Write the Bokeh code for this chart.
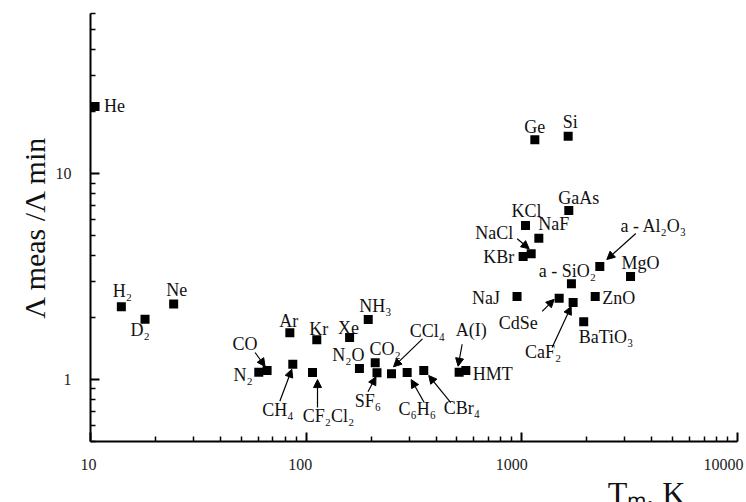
import math
from bokeh.plotting import figure
from bokeh.layouts import column
from bokeh.models import (ColumnDataSource, FixedTicker, CustomJSTickFormatter,
                          Title, Arrow, NormalHead, Range1d)
from bokeh.core.properties import value
from bokeh.embed import file_html
from bokeh.resources import INLINE

# ---------------- data ----------------
names = ["He", "H2", "D2", "Ne", "N2", "CO", "Ar", "CH4", "Kr", "CF2Cl2",
         "Xe", "NH3", "N2O", "CO2", "SF6", "CCl4", "C6H6", "CBr4", "A(I)", "HMT",
         "Ge", "Si", "GaAs", "KCl", "NaF", "NaCl", "KBr", "a-Al2O3", "MgO", "a-SiO2",
         "NaJ", "CdSe", "CaF2", "ZnO", "BaTiO3"]
label_text = ["He", "H₂", "D₂", "Ne", "N₂", "CO", "Ar", "CH₄", "Kr", "CF₂Cl₂",
              "Xe", "NH₃", "N₂O", "CO₂", "SF₆", "CCl₄", "C₆H₆", "CBr₄", "A(I)", "HMT",
              "Ge", "Si", "GaAs", "KCl", "NaF", "NaCl", "KBr", "a - Al₂O₃", "MgO", "a - SiO₂",
              "NaJ", "CdSe", "CaF₂", "ZnO", "BaTiO₃"]
tm_K = [10.5, 13.9, 17.9, 24.3, 60.3, 65.9, 84, 86.7, 112, 107,
        159, 194, 176.6, 209, 213, 248.7, 294, 351, 512, 550,
        1149, 1640, 1651, 1040, 1199, 1105, 1014, 2299, 3192, 1698,
        950, 1490, 1729, 2189, 1936]
ratio = [21.2, 2.26, 1.96, 2.33, 1.085, 1.106, 1.686, 1.187, 1.56, 1.081,
         1.60, 1.957, 1.131, 1.205, 1.078, 1.066, 1.081, 1.106, 1.085, 1.106,
         14.6, 15.2, 6.62, 5.60, 4.86, 4.08, 3.96, 3.54, 3.17, 2.92,
         2.53, 2.48, 2.37, 2.53, 1.91]

x_major = [10, 100, 1000, 10000]
x_tick_labels = ["10", "100", "1000", "10000"]
y_major = [1, 10]
x_title = "Tₘ, K"
y_title = "Λ meas /Λ min"

# ---------------- style / layout ----------------
W, H = 746, 502
LEFT, RIGHT, TOP = 90, 9, 13
AXIS_PAD = 10            # space under the main frame kept inside the main figure
BOTTOM_H = 51            # strip below holding tick labels and the x title
XR = (10, 10000)
YR = (0.5, 60)
FONT = "Liberation Serif"
MAIN_H = H - BOTTOM_H
frame_w = W - LEFT - RIGHT
frame_h = MAIN_H - TOP - AXIS_PAD
px_dec_x = frame_w / math.log10(XR[1] / XR[0])
px_dec_y = frame_h / math.log10(YR[1] / YR[0])
LBL_SHIFT = -5           # compensates the renderer's baseline placement (18px text)

# label placement: name -> (dx, dy (down +), align)
label_pos = {
    "He": (9, 4, "left"), "H2": (1, -11, "center"), "D2": (-5, 16, "center"),
    "Ne": (3, -9, "center"), "N2": (-6, 8, "right"), "CO": (-22, -22, "center"),
    "Ar": (-1, -7, "center"), "CH4": (-15, 51, "center"), "Kr": (2, -6, "center"),
    "CF2Cl2": (16, 48, "center"), "Xe": (-1, -5, "center"), "NH3": (-9, -9, "left"),
    "N2O": (-11, -9, "center"), "CO2": (10, -9, "center"), "SF6": (-9, 33, "center"),
    "CCl4": (36, -38, "center"), "C6H6": (10, 41, "center"), "CBr4": (38, 42, "center"),
    "A(I)": (12, -37, "center"), "HMT": (7, 8, "left"), "Ge": (0, -8, "center"),
    "Si": (2, -9, "center"), "GaAs": (10, -8, "center"), "KCl": (1, -10, "center"),
    "NaF": (15, -9, "center"), "NaCl": (-37, -16, "center"), "KBr": (-9, 6, "right"),
    "a-Al2O3": (54, -36, "center"), "MgO": (10, -8, "center"), "a-SiO2": (-4, -8, "center"),
    "NaJ": (-17, 6, "right"), "ZnO": (7, 6, "left"), "CdSe": (-41, 30, "center"),
    "CaF2": (-30, 55, "center"), "BaTiO3": (-5, 20, "left"),
}
# arrows: name -> (start dx, start dy, end dx, end dy) in screen px relative to point
arrow_pos = {
    "CO": (-12, -18, -2, -4), "CH4": (-13, 37, -1, 5), "CF2Cl2": (5, 35, 5, 7),
    "SF6": (-9, 19, -1, 4), "CCl4": (31, -35, 2, -7), "C6H6": (17, 30, 4, 7),
    "CBr4": (27, 32, 5, 5), "A(I)": (3, -28, -1, -6), "NaCl": (-14, -15, -2, -5),
    "a-Al2O3": (36, -33, 7, -7), "CdSe": (-17, 13, -5, 1), "CaF2": (-21, 45, -2, 4),
}

# ---------------- main plot ----------------
p = figure(width=W, height=MAIN_H, x_axis_type="log", y_axis_type="log",
           x_range=Range1d(*XR), y_range=Range1d(*YR), output_backend="svg",
           toolbar_location=None, title=None,
           min_border_left=LEFT, min_border_right=RIGHT,
           min_border_top=TOP, min_border_bottom=AXIS_PAD)
p.frame_align = False
p.outline_line_color = None
p.xgrid.visible = False
p.ygrid.visible = False
p.background_fill_color = "white"
p.border_fill_color = "white"

p.xaxis.ticker = FixedTicker(ticks=x_major,
                             minor_ticks=[m * d for d in (10, 100, 1000) for m in range(2, 10)])
p.yaxis.ticker = FixedTicker(ticks=y_major,
                             minor_ticks=[0.5, 0.6, 0.7, 0.8, 0.9] + list(range(2, 10)) + [20, 30, 40, 50, 60])
p.xaxis.formatter = CustomJSTickFormatter(code="return ''")
p.yaxis.formatter = CustomJSTickFormatter(code="return String(tick)")
for ax in (p.xaxis[0], p.yaxis[0]):
    ax.axis_line_width = 2
    ax.axis_line_color = "black"
    ax.major_tick_in = 9
    ax.major_tick_out = 0
    ax.minor_tick_in = 5
    ax.minor_tick_out = 0
    ax.major_tick_line_width = 2
    ax.minor_tick_line_width = 1.5
    ax.major_tick_line_color = "black"
    ax.minor_tick_line_color = "black"
    ax.major_label_text_font = FONT
    ax.major_label_text_font_size = "16px"
    ax.major_label_text_color = "#222222"
p.yaxis.major_label_standoff = 19
p.xaxis.major_label_standoff = 0
p.xaxis.major_label_text_font_size = "1px"

# y title on the left side panel
p.add_layout(Title(text=y_title, align="center", offset=71, standoff=4,
                   text_font=FONT, text_font_size="30px", text_font_style="normal",
                   text_color="#111111"), "left")

# markers
src = ColumnDataSource(dict(x=tm_K, y=ratio, name=names))
p.scatter(x="x", y="y", source=src, marker="square", size=9,
          fill_color="black", line_color="black", line_width=0)

# point labels
lx, ly, lt, ldx, ldy, lal = [], [], [], [], [], []
for n, t, xv, yv in zip(names, label_text, tm_K, ratio):
    dx, dy, al = label_pos[n]
    lx.append(xv); ly.append(yv); lt.append(t)
    ldx.append(dx); ldy.append(dy + LBL_SHIFT); lal.append(al)
lsrc = ColumnDataSource(dict(x=lx, y=ly, t=lt, dx=ldx, dy=ldy, al=lal))
p.text(x="x", y="y", text="t", source=lsrc, x_offset="dx", y_offset="dy",
       text_align="al", text_baseline="alphabetic", text_font=value(FONT),
       text_font_size="18px", text_color="#111111")

# arrows
def shift(xv, yv, dx, dy):
    return xv * 10 ** (dx / px_dec_x), yv * 10 ** (-dy / px_dec_y)

axs, ays, axe, aye = [], [], [], []
for n, xv, yv in zip(names, tm_K, ratio):
    if n in arrow_pos:
        sdx, sdy, edx, edy = arrow_pos[n]
        a, b_ = shift(xv, yv, sdx, sdy)
        c, d = shift(xv, yv, edx, edy)
        axs.append(a); ays.append(b_); axe.append(c); aye.append(d)
asrc = ColumnDataSource(dict(xs=axs, ys=ays, xe=axe, ye=aye))
p.add_layout(Arrow(end=NormalHead(size=8, fill_color="black", line_color="black", line_width=1),
                   x_start="xs", y_start="ys", x_end="xe", y_end="ye", source=asrc,
                   line_width=1.2, line_color="black"))

# ---------------- bottom strip: x tick labels and x title ----------------
# same log scale as the main frame, extended over the full canvas width
bx_range = Range1d(XR[0] * 10 ** (-LEFT / px_dec_x), XR[1] * 10 ** (RIGHT / px_dec_x))
b = figure(width=W, height=BOTTOM_H, x_axis_type="log", x_range=bx_range,
           y_range=Range1d(BOTTOM_H, 0), output_backend="svg", toolbar_location=None,
           title=None, x_axis_location=None, y_axis_location=None,
           min_border_left=0, min_border_right=0, min_border_top=0, min_border_bottom=0)
b.frame_align = False
b.outline_line_color = None
b.xgrid.visible = False
b.ygrid.visible = False
b.background_fill_color = "white"
b.border_fill_color = "white"

# anchored to the strip's bottom edge (= bottom of the picture)
tsrc = ColumnDataSource(dict(x=x_major, y=[BOTTOM_H] * len(x_major), t=x_tick_labels))
b.text(x="x", y="y", text="t", source=tsrc, text_font=value(FONT), text_font_size="16px",
       text_color="#222222", text_align="right", text_baseline="alphabetic",
       x_offset=6, y_offset=-38)
b.text(x=[XR[1]], y=[BOTTOM_H], text=[x_title], text_font=value(FONT), text_font_size="32px",
       text_color="#111111", text_align="center", text_baseline="alphabetic",
       x_offset=-91, y_offset=-10)

layout = column(p, b, spacing=0)
open("out.html", "w").write(file_html(layout, INLINE))
